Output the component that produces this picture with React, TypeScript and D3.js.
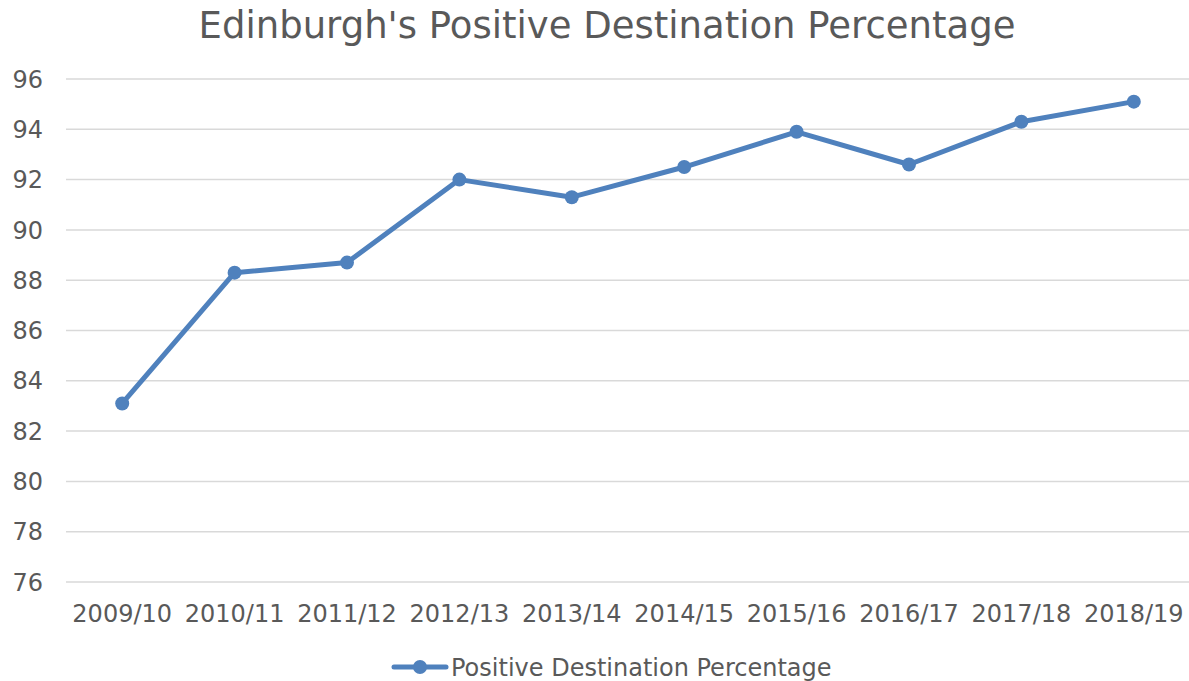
import React from "react";
import * as d3 from "d3";

const years = [
  "2009/10", "2010/11", "2011/12", "2012/13", "2013/14",
  "2014/15", "2015/16", "2016/17", "2017/18", "2018/19",
];
const values = [83.1, 88.3, 88.7, 92.0, 91.3, 92.5, 93.9, 92.6, 94.3, 95.1];
const yTicks = [76, 78, 80, 82, 84, 86, 88, 90, 92, 94, 96];
const seriesName = "Positive Destination Percentage";
const title = "Edinburgh's Positive Destination Percentage";

const W = 1189;
const H = 681;
const left = 66;
const right = 1190;
const top = 79;
const bottom = 582;
const blue = "#4f81bd";
const textColor = "#595959";
const font = "'DejaVu Sans', Verdana, sans-serif";

export default function App() {
  const x = d3.scaleBand<string>().domain(years).range([left, right]);
  const y = d3.scaleLinear().domain([76, 96]).range([bottom, top]);
  const cx = (d: string) => (x(d) ?? 0) + x.bandwidth() / 2;

  const line = d3
    .line<number>()
    .x((_, i) => cx(years[i]))
    .y((v) => y(v));

  return (
    <svg
      width={W}
      height={H}
      style={{ position: "absolute", left: 0, top: 0, background: "#fff" }}
      fontFamily={font}
    >
      <text x={607} y={38} textAnchor="middle" fontSize={37} fill={textColor}>
        {title}
      </text>

      {yTicks.map((t) => (
        <g key={t}>
          <line x1={left} x2={right} y1={y(t)} y2={y(t)} stroke="#d9d9d9" strokeWidth={1.5} />
          <text x={43} y={y(t)} dy="0.36em" textAnchor="end" fontSize={24} fill={textColor}>
            {t}
          </text>
        </g>
      ))}

      {years.map((d) => (
        <text key={d} x={cx(d)} y={622} textAnchor="middle" fontSize={24} fill={textColor}>
          {d}
        </text>
      ))}

      <path d={line(values) ?? ""} fill="none" stroke={blue} strokeWidth={5} strokeLinejoin="round" />
      {values.map((v, i) => (
        <circle key={years[i]} cx={cx(years[i])} cy={y(v)} r={7} fill={blue} />
      ))}

      <g>
        <line x1={394} x2={446} y1={667} y2={667} stroke={blue} strokeWidth={5} strokeLinecap="round" />
        <circle cx={420} cy={667} r={7} fill={blue} />
        <text x={451} y={667} dy="0.36em" fontSize={24} fill={textColor}>
          {seriesName}
        </text>
      </g>
    </svg>
  );
}
